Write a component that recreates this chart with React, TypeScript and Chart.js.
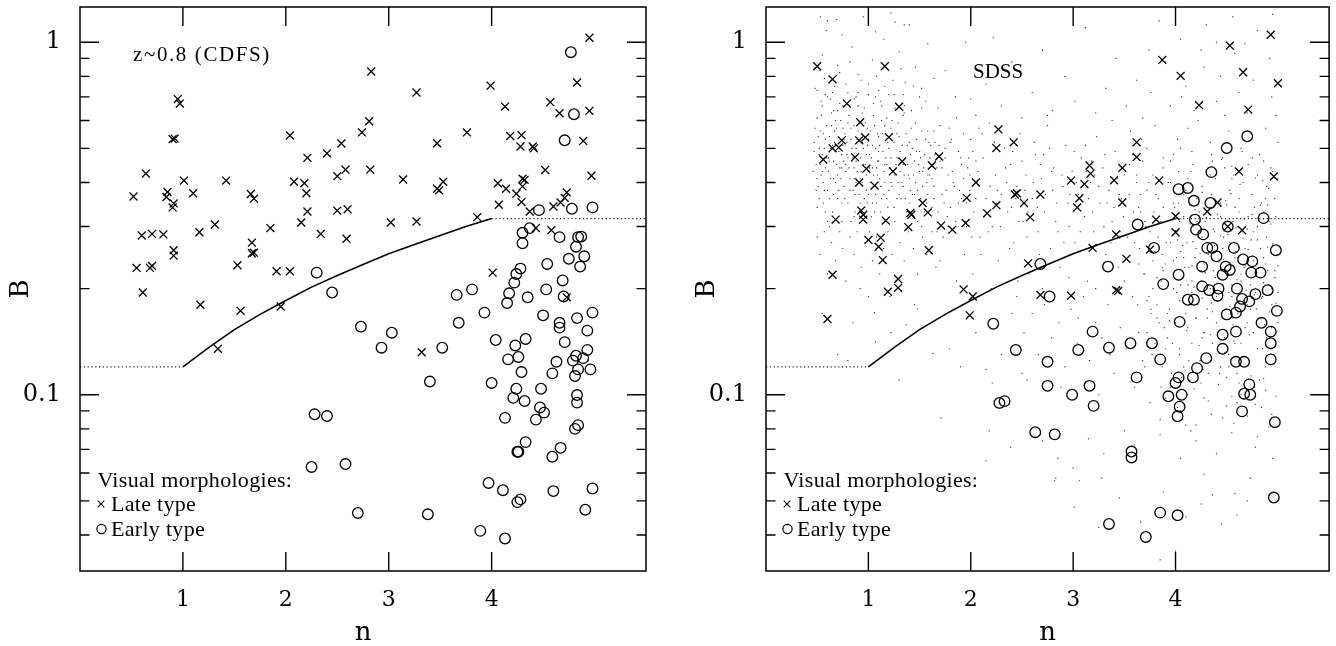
import React, { useEffect, useRef } from "react";
import { Chart, registerables } from "chart.js";

Chart.register(...registerables);

type P = [number, number];

// ---------- axes ----------
const X_MIN = 0;
const X_MAX = 5.5;
const Y_MIN = 0.031623;
const Y_MAX = 1.2589;
const X_TICKS = [1, 2, 3, 4];
const Y_TICKS = [0.1, 1];
const Y_MINOR = [0.04, 0.05, 0.06, 0.07, 0.08, 0.09, 0.2, 0.3, 0.4, 0.5, 0.6, 0.7, 0.8, 0.9];

// ---------- separating line ----------
const CURVE_N = [1, 1.25, 1.5, 1.75, 2, 2.25, 2.5, 2.75, 3, 3.25, 3.5, 3.75, 4];
const CURVE_B = [0.12, 0.136, 0.153, 0.169, 0.185, 0.202, 0.218, 0.234, 0.251, 0.267, 0.283, 0.3, 0.316];
const FLOOR_N = [0, 1];
const FLOOR_B = [0.12, 0.12];
const CEIL_N = [4, 5.5];
const CEIL_B = [0.316, 0.316];

// ---------- CDFS (left) ----------
const CDFS_LATE: P[] = [
  [4.95, 1.03], [2.83, 0.826], [3.27, 0.72], [3.99, 0.753], [4.83, 0.769], [0.95, 0.69], [0.97, 0.67],
  [4.13, 0.657], [4.57, 0.676], [4.66, 0.629], [4.95, 0.639], [2.81, 0.597], [2.74, 0.555], [3.76, 0.555],
  [2.04, 0.544], [0.9, 0.531], [0.92, 0.533], [4.18, 0.542], [4.29, 0.545], [2.54, 0.516], [3.47, 0.517],
  [4.28, 0.506], [4.4, 0.506], [4.41, 0.5], [4.89, 0.525], [2.4, 0.484], [2.21, 0.47], [4.52, 0.434],
  [2.82, 0.435], [2.58, 0.435], [2.5, 0.417], [0.64, 0.424], [4.97, 0.418], [4.3, 0.41], [4.32, 0.407],
  [1.01, 0.405], [1.42, 0.405], [2.08, 0.402], [2.18, 0.398], [3.14, 0.408], [3.53, 0.402], [3.47, 0.384],
  [3.49, 0.38], [4.06, 0.398], [4.14, 0.384], [4.24, 0.372], [4.3, 0.39], [4.73, 0.375], [4.71, 0.362],
  [0.52, 0.365], [0.85, 0.376], [0.84, 0.364], [1.1, 0.373], [1.66, 0.371], [1.69, 0.36], [2.2, 0.373],
  [0.91, 0.349], [0.9, 0.34], [4.07, 0.346], [4.29, 0.352], [4.37, 0.331], [4.6, 0.342], [4.67, 0.351],
  [2.21, 0.331], [2.5, 0.333], [2.6, 0.336], [3.86, 0.319], [1.31, 0.304], [1.85, 0.297], [2.15, 0.308],
  [3.02, 0.308], [3.27, 0.31], [1.16, 0.289], [0.6, 0.283], [0.7, 0.286], [0.81, 0.285], [2.34, 0.286],
  [2.59, 0.277], [1.67, 0.27], [1.67, 0.252], [1.69, 0.253], [4.43, 0.297], [4.58, 0.293], [0.91, 0.257],
  [0.91, 0.248], [1.53, 0.233], [0.55, 0.229], [0.68, 0.229], [0.7, 0.232], [1.91, 0.224], [2.04, 0.224],
  [4.01, 0.222], [0.61, 0.195], [1.17, 0.18], [1.56, 0.173], [1.95, 0.178], [4.73, 0.189], [1.34, 0.135],
  [3.32, 0.132],
];
const CDFS_EARLY: P[] = [
  [4.77, 0.937], [4.8, 0.625], [4.71, 0.527], [4.46, 0.334], [4.78, 0.337], [4.98, 0.34], [4.37, 0.297],
  [4.3, 0.288], [4.3, 0.269], [4.66, 0.28], [4.84, 0.28], [4.87, 0.281], [4.82, 0.263], [4.54, 0.235],
  [4.75, 0.243], [4.9, 0.247], [4.86, 0.231], [4.28, 0.228], [4.24, 0.22], [4.22, 0.208], [4.69, 0.211],
  [4.17, 0.194], [4.15, 0.182], [4.35, 0.189], [4.53, 0.199], [3.66, 0.192], [3.81, 0.199], [4.7, 0.19],
  [3.93, 0.171], [4.5, 0.168], [4.83, 0.165], [4.98, 0.171], [2.3, 0.222], [2.45, 0.195], [2.73, 0.156],
  [3.03, 0.15], [2.93, 0.136], [3.52, 0.136], [3.68, 0.16], [4.66, 0.16], [4.66, 0.155], [4.93, 0.152],
  [4.04, 0.143], [4.23, 0.138], [4.33, 0.144], [4.71, 0.141], [4.16, 0.126], [4.26, 0.128], [4.29, 0.116],
  [4.63, 0.124], [4.59, 0.115], [4.79, 0.125], [4.82, 0.129], [4.89, 0.127], [4.93, 0.134], [4.84, 0.118],
  [4.96, 0.118], [4.81, 0.113], [3.4, 0.109], [4.0, 0.108], [4.24, 0.104], [4.48, 0.104], [4.21, 0.098],
  [4.32, 0.096], [4.83, 0.0998], [4.83, 0.095], [4.47, 0.092], [4.51, 0.089], [4.13, 0.086], [4.43, 0.085],
  [4.84, 0.082], [4.81, 0.08], [2.28, 0.088], [2.4, 0.087], [4.33, 0.0734], [4.25, 0.0689], [4.26, 0.0689],
  [4.67, 0.0707], [4.59, 0.0667], [2.25, 0.0624], [2.58, 0.0636], [3.97, 0.0562], [4.11, 0.0536],
  [4.28, 0.0505], [4.25, 0.0496], [4.6, 0.0533], [4.98, 0.0542], [4.91, 0.0472], [2.7, 0.0462],
  [3.38, 0.0458], [3.89, 0.0411], [4.13, 0.0391],
];

// ---------- SDSS (right) ----------
const SDSS_LATE: P[] = [
  [0.5, 0.855], [1.16, 0.855], [0.65, 0.785], [0.79, 0.67], [1.3, 0.656], [0.92, 0.593], [0.74, 0.527],
  [0.91, 0.527], [0.97, 0.537], [1.2, 0.538], [0.65, 0.5], [0.71, 0.503], [0.56, 0.465], [0.87, 0.472],
  [0.98, 0.438], [1.33, 0.459], [1.24, 0.43], [1.69, 0.474], [1.62, 0.447], [0.91, 0.4], [1.06, 0.392],
  [2.05, 0.4], [2.27, 0.566], [2.25, 0.501], [2.42, 0.52], [1.96, 0.362], [2.43, 0.37], [2.45, 0.373],
  [2.68, 0.37], [2.52, 0.35], [2.25, 0.345], [2.16, 0.327], [2.58, 0.319], [1.53, 0.35], [1.58, 0.329],
  [1.41, 0.328], [1.42, 0.324], [0.93, 0.333], [0.95, 0.324], [0.95, 0.314], [0.68, 0.314], [1.17, 0.312],
  [1.39, 0.299], [1.71, 0.302], [1.82, 0.294], [1.95, 0.307], [1.0, 0.275], [1.12, 0.279], [1.1, 0.263],
  [1.59, 0.257], [1.14, 0.241], [0.65, 0.219], [1.29, 0.213], [1.19, 0.196], [1.29, 0.201], [1.93, 0.199],
  [2.02, 0.19], [2.56, 0.236], [2.68, 0.192], [4.93, 1.05], [4.53, 0.978], [3.87, 0.891], [4.05, 0.803],
  [4.66, 0.822], [5.0, 0.765], [4.23, 0.663], [4.71, 0.644], [3.62, 0.52], [3.62, 0.472], [3.16, 0.447],
  [3.17, 0.424], [3.48, 0.44], [3.4, 0.406], [2.98, 0.405], [3.11, 0.396], [3.84, 0.405], [4.62, 0.43],
  [4.96, 0.416], [3.06, 0.361], [3.04, 0.34], [3.48, 0.351], [4.41, 0.351], [4.31, 0.331], [3.81, 0.314],
  [4.0, 0.321], [4.0, 0.289], [4.65, 0.293], [4.51, 0.3], [3.42, 0.285], [3.19, 0.261], [3.75, 0.258],
  [3.52, 0.243], [2.98, 0.191], [3.42, 0.198], [3.44, 0.197], [0.6, 0.164], [1.99, 0.168],
];
const SDSS_EARLY: P[] = [
  [2.68, 0.235], [2.77, 0.19], [4.7, 0.541], [4.5, 0.501], [4.35, 0.428], [4.03, 0.383], [4.12, 0.386],
  [4.18, 0.355], [4.34, 0.35], [4.19, 0.314], [4.86, 0.317], [4.2, 0.294], [4.27, 0.285], [3.63, 0.304],
  [3.79, 0.261], [4.31, 0.261], [4.36, 0.261], [4.4, 0.247], [4.57, 0.261], [4.98, 0.257], [3.34, 0.231],
  [4.26, 0.231], [4.66, 0.242], [4.75, 0.239], [4.49, 0.231], [4.53, 0.226], [4.46, 0.219], [4.74, 0.222],
  [4.83, 0.222], [4.03, 0.219], [3.88, 0.206], [4.51, 0.3], [4.26, 0.203], [4.33, 0.198], [4.42, 0.2],
  [4.6, 0.2], [4.78, 0.193], [4.9, 0.198], [4.41, 0.191], [4.12, 0.186], [4.18, 0.186], [4.65, 0.187],
  [4.72, 0.184], [4.63, 0.178], [4.5, 0.169], [4.59, 0.171], [4.99, 0.173], [4.04, 0.161], [4.84, 0.16],
  [3.19, 0.151], [4.46, 0.148], [4.59, 0.151], [4.93, 0.151], [4.93, 0.14], [3.05, 0.134], [3.35, 0.136],
  [3.56, 0.14], [3.77, 0.14], [3.85, 0.126], [4.46, 0.135], [4.3, 0.127], [4.59, 0.124], [4.67, 0.124],
  [4.93, 0.126], [4.21, 0.119], [4.17, 0.112], [3.62, 0.112], [4.03, 0.112], [4.0, 0.108], [4.06, 0.1],
  [3.16, 0.106], [2.99, 0.1], [3.2, 0.093], [3.93, 0.099], [4.04, 0.0925], [4.02, 0.0869], [4.72, 0.107],
  [4.67, 0.1007], [4.73, 0.1], [4.65, 0.0897], [4.97, 0.0836], [3.57, 0.069], [3.57, 0.0664], [4.96, 0.0511],
  [3.85, 0.0463], [4.02, 0.0455], [3.35, 0.043], [3.71, 0.0395], [2.22, 0.159], [2.44, 0.134], [2.75, 0.124],
  [2.75, 0.106], [2.28, 0.0948], [2.33, 0.0959], [2.63, 0.0783], [2.82, 0.0772],
];

// SDSS comparison sample (small dots), estimated region by region
const FIELD_DISC: P[] = [
  [0.47, 0.52], [0.49, 0.45], [0.5, 0.61], [0.51, 0.39], [0.52, 0.48], [0.53, 0.56], [0.54, 0.42], [0.55, 0.66], [0.56, 0.35], [0.57, 0.5],
  [0.58, 0.44], [0.59, 0.58], [0.6, 0.38], [0.61, 0.47], [0.62, 0.54], [0.63, 0.41], [0.64, 0.63], [0.65, 0.33], [0.66, 0.46], [0.67, 0.52],
  [0.68, 0.4], [0.69, 0.57], [0.7, 0.36], [0.71, 0.49], [0.72, 0.44], [0.73, 0.6], [0.74, 0.31], [0.75, 0.51], [0.76, 0.39], [0.77, 0.55],
  [0.78, 0.43], [0.79, 0.48], [0.8, 0.35], [0.81, 0.62], [0.82, 0.41], [0.83, 0.53], [0.84, 0.46], [0.85, 0.38], [0.86, 0.58], [0.87, 0.33],
  [0.88, 0.5], [0.89, 0.43], [0.9, 0.66], [0.91, 0.37], [0.92, 0.47], [0.93, 0.55], [0.94, 0.4], [0.95, 0.45], [0.96, 0.34], [0.97, 0.59],
  [0.98, 0.42], [0.99, 0.51], [1.0, 0.37], [1.01, 0.48], [1.02, 0.56], [1.03, 0.32], [1.04, 0.44], [1.05, 0.62], [1.06, 0.39], [1.07, 0.5],
  [1.08, 0.35], [1.09, 0.46], [1.1, 0.54], [1.11, 0.41], [1.12, 0.68], [1.13, 0.36], [1.14, 0.49], [1.15, 0.43], [1.16, 0.58], [1.17, 0.31],
  [1.18, 0.45], [1.19, 0.52], [1.2, 0.38], [1.22, 0.47], [1.23, 0.6], [1.25, 0.34], [1.26, 0.42], [1.28, 0.55], [1.29, 0.4], [1.31, 0.49],
  [1.32, 0.36], [1.34, 0.45], [1.35, 0.63], [1.37, 0.33], [1.38, 0.51], [1.4, 0.41], [1.42, 0.57], [1.43, 0.37], [1.45, 0.46], [1.47, 0.53],
  [1.48, 0.31], [1.5, 0.43], [1.52, 0.65], [1.53, 0.39], [1.55, 0.48], [1.57, 0.35], [1.58, 0.56], [1.6, 0.42], [0.52, 0.36], [0.58, 0.33],
  [0.63, 0.69], [0.7, 0.64], [0.76, 0.46], [0.83, 0.31], [0.88, 0.4], [0.94, 0.52], [1.0, 0.43], [1.06, 0.33], [1.12, 0.39], [1.18, 0.61],
  [0.55, 0.43], [0.66, 0.41], [0.74, 0.48], [0.86, 0.44], [0.99, 0.57], [1.09, 0.42], [1.21, 0.44], [1.3, 0.37], [1.41, 0.48], [1.51, 0.36],
];
const FIELD_DISC_2: P[] = [
  [0.46, 0.43], [0.48, 0.57], [0.5, 0.34], [0.52, 0.5], [0.54, 0.62], [0.56, 0.4], [0.58, 0.53], [0.6, 0.31], [0.62, 0.46], [0.64, 0.58],
  [0.66, 0.37], [0.68, 0.49], [0.7, 0.42], [0.72, 0.67], [0.74, 0.35], [0.76, 0.53], [0.78, 0.45], [0.8, 0.59], [0.82, 0.38], [0.84, 0.5],
  [0.86, 0.32], [0.88, 0.46], [0.9, 0.56], [0.92, 0.41], [0.94, 0.63], [0.96, 0.36], [0.98, 0.48], [1.0, 0.53], [1.02, 0.4], [1.04, 0.35],
  [1.06, 0.58], [1.08, 0.44], [1.1, 0.49], [1.12, 0.33], [1.14, 0.55], [1.16, 0.4], [1.18, 0.36], [1.2, 0.5], [1.22, 0.57], [1.24, 0.43],
  [1.26, 0.31], [1.28, 0.47], [1.3, 0.54], [1.32, 0.4], [1.34, 0.62], [1.36, 0.36], [1.38, 0.45], [1.4, 0.52], [1.42, 0.33], [1.44, 0.42],
  [1.46, 0.59], [1.48, 0.38], [1.5, 0.49], [1.52, 0.3], [1.54, 0.44], [1.56, 0.53], [1.58, 0.37], [1.6, 0.47], [1.62, 0.34], [1.64, 0.56],
  [0.47, 0.49], [0.5, 0.41], [0.53, 0.45], [0.56, 0.55], [0.59, 0.47], [0.62, 0.36], [0.65, 0.51], [0.68, 0.6], [0.71, 0.38], [0.74, 0.44],
  [0.77, 0.36], [0.8, 0.47], [0.83, 0.57], [0.86, 0.41], [0.89, 0.53], [0.92, 0.35], [0.95, 0.5], [0.98, 0.38], [1.01, 0.44], [1.04, 0.51],
  [1.07, 0.37], [1.1, 0.46], [1.13, 0.6], [1.16, 0.45], [1.19, 0.34], [1.22, 0.4], [1.25, 0.52], [1.28, 0.36], [1.31, 0.43], [1.34, 0.39],
  [1.37, 0.55], [1.4, 0.35], [1.43, 0.5], [1.46, 0.4], [1.49, 0.45], [1.52, 0.56], [1.55, 0.33], [1.58, 0.42], [1.61, 0.51], [1.64, 0.39],
  [0.49, 0.38], [0.55, 0.48], [0.61, 0.43], [0.67, 0.56], [0.73, 0.41], [0.79, 0.52], [0.85, 0.47], [0.91, 0.59], [0.97, 0.45], [1.03, 0.47],
  [1.09, 0.55], [1.15, 0.37], [1.21, 0.54], [1.27, 0.45], [1.33, 0.51], [1.39, 0.42], [1.45, 0.37], [1.51, 0.47], [1.57, 0.4], [1.63, 0.45],
  [0.51, 0.54], [0.57, 0.38], [0.63, 0.5], [0.69, 0.45], [0.75, 0.57], [0.81, 0.44], [0.87, 0.37], [0.93, 0.43], [0.99, 0.35], [1.05, 0.42],
  [1.11, 0.51], [1.17, 0.47], [1.23, 0.39], [1.29, 0.59], [1.35, 0.42], [1.41, 0.38], [1.47, 0.49], [1.53, 0.43], [1.59, 0.52], [1.65, 0.48],
  [0.6, 0.7], [0.75, 0.66], [0.9, 0.72], [1.05, 0.67], [1.2, 0.71], [1.35, 0.66], [1.5, 0.7], [0.66, 0.64], [0.96, 0.65], [1.26, 0.65],
];
const FIELD_DISC_EDGE: P[] = [
  [1.67, 0.44], [1.7, 0.58], [1.72, 0.37], [1.75, 0.47], [1.77, 0.32], [1.8, 0.52], [1.83, 0.4], [1.86, 0.61], [1.88, 0.35], [1.91, 0.45],
  [1.93, 0.55], [1.96, 0.3], [1.99, 0.42], [2.02, 0.49], [2.05, 0.36], [2.08, 0.57], [1.69, 0.51], [1.78, 0.42], [1.89, 0.38], [1.98, 0.47],
  [0.5, 0.73], [0.57, 0.79], [0.65, 0.72], [0.72, 0.82], [0.78, 0.76], [0.86, 0.69], [0.93, 0.78], [1.0, 0.71], [1.08, 0.8], [1.16, 0.75],
  [1.24, 0.78], [1.32, 0.84], [1.44, 0.75], [1.56, 0.68], [0.54, 0.68], [0.82, 0.88], [1.13, 0.66], [1.42, 0.64],
];
const FIELD_DISC_TOP: P[] = [
  [0.48, 0.74], [0.55, 0.92], [0.6, 1.15], [0.63, 0.78], [0.7, 0.86], [0.74, 1.05], [0.8, 0.72], [0.84, 0.97], [0.9, 0.81], [0.95, 1.18],
  [1.0, 0.76], [1.04, 0.89], [1.1, 0.73], [1.15, 1.02], [1.2, 0.83], [1.25, 0.71], [1.3, 0.94], [1.36, 0.77], [1.4, 1.12], [1.46, 0.85],
  [1.52, 0.74], [1.58, 0.99], [1.64, 0.79], [0.58, 0.71], [0.67, 0.75], [0.88, 0.7], [1.07, 0.7], [1.22, 1.21], [0.52, 0.83], [1.34, 0.71],
  [0.53, 1.18], [0.69, 1.16], [0.59, 1.08], [1.07, 1.07], [1.26, 1.14], [1.35, 1.12],
];
const FIELD_DISC_LOW: P[] = [
  [0.5, 0.28], [0.53, 0.25], [0.57, 0.29], [0.6, 0.22], [0.64, 0.27], [0.68, 0.24], [0.72, 0.29], [0.75, 0.26], [0.78, 0.21], [0.82, 0.28],
  [0.86, 0.25], [0.89, 0.29], [0.93, 0.23], [0.97, 0.27], [1.01, 0.29], [1.04, 0.24], [1.08, 0.28], [1.11, 0.22], [1.15, 0.26], [1.19, 0.29],
  [1.23, 0.25], [1.27, 0.21], [1.31, 0.27], [1.35, 0.24], [1.39, 0.29], [1.44, 0.26], [1.48, 0.22], [1.53, 0.28], [1.57, 0.25], [1.62, 0.29],
  [1.66, 0.23], [0.62, 0.3], [0.92, 0.2], [1.21, 0.19], [1.45, 0.18],
];
const FIELD_UNDER_LINE: P[] = [
  [0.55, 0.17], [0.7, 0.13], [0.85, 0.16], [1.0, 0.19], [1.06, 0.171], [1.07, 0.141], [1.22, 0.15], [1.37, 0.158], [1.48, 0.175],
  [1.63, 0.131], [1.71, 0.086], [1.79, 0.135], [1.9, 0.12], [2.05, 0.15], [2.15, 0.118], [2.21, 0.108], [2.3, 0.13], [2.4, 0.17],
  [2.5, 0.115], [0.8, 0.125], [1.3, 0.11], [2.18, 0.079], [2.15, 0.065], [2.39, 0.071], [2.83, 0.058],
];
const FIELD_MID: P[] = [
  [1.62, 0.41], [1.65, 0.52], [1.68, 0.33], [1.7, 0.46], [1.73, 0.28], [1.76, 0.38], [1.79, 0.57], [1.82, 0.43], [1.85, 0.31], [1.88, 0.49],
  [1.91, 0.36], [1.94, 0.25], [1.97, 0.44], [2.0, 0.53], [2.03, 0.33], [2.06, 0.4], [2.09, 0.28], [2.12, 0.47], [2.15, 0.36], [2.18, 0.59],
  [2.21, 0.3], [2.24, 0.42], [2.27, 0.24], [2.3, 0.37], [2.33, 0.5], [2.36, 0.33], [2.39, 0.45], [2.42, 0.27], [2.45, 0.39], [2.48, 0.55],
  [2.51, 0.31], [2.54, 0.42], [2.57, 0.22], [2.6, 0.36], [2.63, 0.48], [2.66, 0.29], [2.69, 0.41], [2.72, 0.33], [2.75, 0.58], [2.78, 0.26],
  [2.81, 0.44], [2.84, 0.35], [2.87, 0.23], [2.9, 0.39], [2.93, 0.51], [2.96, 0.3], [2.99, 0.43], [3.02, 0.27], [3.05, 0.37], [3.08, 0.47],
  [3.11, 0.32], [3.14, 0.21], [3.17, 0.4], [3.2, 0.29], [3.23, 0.54], [3.26, 0.35], [3.29, 0.44], [3.32, 0.25], [3.35, 0.38], [3.38, 0.31],
  [3.41, 0.49], [3.44, 0.23], [3.47, 0.36], [3.5, 0.42], [3.53, 0.28], [3.56, 0.56], [3.59, 0.33], [3.62, 0.4], [3.65, 0.26], [3.68, 0.46],
  [1.7, 0.24], [1.86, 0.21], [2.02, 0.22], [2.2, 0.2], [2.46, 0.21], [2.7, 0.2], [2.96, 0.215], [3.22, 0.2], [3.5, 0.21],
  [1.75, 0.5], [2.05, 0.46], [2.35, 0.4], [2.62, 0.52], [2.85, 0.29], [3.12, 0.51], [3.4, 0.34], [3.66, 0.37], [1.95, 0.31], [2.25, 0.35],
  [2.55, 0.28], [2.8, 0.38], [3.0, 0.33], [3.3, 0.3], [3.55, 0.45], [1.8, 0.34], [2.1, 0.25], [2.4, 0.34], [2.68, 0.45], [3.15, 0.36],
];
const FIELD_MID_2: P[] = [
  [1.64, 0.36], [1.72, 0.44], [1.78, 0.3], [1.84, 0.39], [1.9, 0.47], [1.96, 0.35], [2.01, 0.28], [2.07, 0.43], [2.13, 0.32], [2.19, 0.39],
  [2.23, 0.52], [2.29, 0.3], [2.34, 0.44], [2.38, 0.26], [2.44, 0.36], [2.5, 0.46], [2.56, 0.33], [2.61, 0.4], [2.67, 0.25], [2.73, 0.37],
  [2.77, 0.5], [2.83, 0.31], [2.89, 0.42], [2.95, 0.35], [3.01, 0.49], [3.07, 0.29], [3.13, 0.43], [3.19, 0.33], [3.25, 0.39], [3.31, 0.48],
  [3.37, 0.27], [3.43, 0.41], [3.49, 0.32], [3.55, 0.37], [3.61, 0.29], [3.67, 0.53], [1.67, 0.29], [1.81, 0.53], [1.93, 0.41], [2.11, 0.55],
  [2.26, 0.38], [2.41, 0.49], [2.53, 0.38], [2.65, 0.34], [2.79, 0.43], [2.91, 0.27], [3.03, 0.4], [3.18, 0.46], [3.33, 0.35], [3.46, 0.29],
  [3.58, 0.48], [1.74, 0.35], [1.99, 0.38], [2.17, 0.29], [2.47, 0.31], [2.71, 0.48], [2.97, 0.37], [3.21, 0.42], [3.45, 0.37], [3.64, 0.34],
];
const FIELD_MID_LOW: P[] = [
  [2.45, 0.19], [2.52, 0.15], [2.6, 0.17], [2.66, 0.13], [2.72, 0.18], [2.79, 0.145], [2.86, 0.16], [2.92, 0.12], [2.98, 0.175], [3.04, 0.14],
  [3.1, 0.19], [3.16, 0.125], [3.22, 0.16], [3.28, 0.145], [3.34, 0.18], [3.4, 0.115], [3.46, 0.155], [3.52, 0.135], [3.58, 0.19], [3.64, 0.15],
  [3.7, 0.12], [3.76, 0.17], [3.8, 0.14], [2.55, 0.11], [2.88, 0.105], [3.25, 0.1], [3.6, 0.105], [3.05, 0.165], [3.36, 0.13], [3.72, 0.185],
];
const FIELD_MID_TOP: P[] = [
  [1.68, 0.65], [1.75, 0.83], [1.85, 0.7], [1.95, 1.0], [2.05, 0.62], [2.15, 0.76], [2.22, 1.03], [2.3, 0.66], [2.4, 0.88], [2.5, 0.61],
  [2.6, 0.72], [2.7, 0.95], [2.8, 0.64], [2.92, 0.8], [3.02, 0.68], [3.12, 1.1], [3.22, 0.63], [3.32, 0.74], [3.42, 0.9], [3.52, 0.66],
  [3.62, 0.78], [3.68, 0.61], [2.0, 0.69], [2.75, 0.62], [3.38, 0.6],
];
const FIELD_BULGE: P[] = [
  [3.72, 0.38], [3.78, 0.42], [3.83, 0.36], [3.88, 0.44], [3.93, 0.4], [3.98, 0.35], [4.03, 0.43], [4.08, 0.37], [4.12, 0.41], [4.17, 0.45],
  [4.21, 0.36], [4.26, 0.39], [4.3, 0.43], [4.35, 0.37], [4.39, 0.41], [4.44, 0.35], [4.48, 0.44], [4.53, 0.38], [4.57, 0.42], [4.62, 0.36],
  [4.66, 0.4], [4.71, 0.45], [4.75, 0.37], [4.8, 0.42], [4.84, 0.35], [4.89, 0.39], [4.93, 0.44], [4.97, 0.36], [5.0, 0.41], [4.55, 0.445],
  [3.71, 0.3], [3.75, 0.26], [3.79, 0.33], [3.83, 0.28], [3.87, 0.25], [3.91, 0.31], [3.95, 0.27], [3.99, 0.34], [4.02, 0.29], [4.05, 0.255],
  [4.08, 0.32], [4.11, 0.27], [4.14, 0.345], [4.17, 0.3], [4.2, 0.26], [4.23, 0.33], [4.26, 0.28], [4.29, 0.31], [4.32, 0.25], [4.35, 0.34],
  [4.38, 0.29], [4.41, 0.265], [4.44, 0.32], [4.47, 0.28], [4.5, 0.345], [4.53, 0.27], [4.56, 0.31], [4.59, 0.255], [4.62, 0.33], [4.65, 0.29],
  [4.68, 0.26], [4.71, 0.32], [4.74, 0.275], [4.77, 0.34], [4.8, 0.3], [4.83, 0.26], [4.86, 0.33], [4.89, 0.28], [4.92, 0.31], [4.95, 0.265],
  [4.98, 0.32], [4.04, 0.31], [4.37, 0.255], [4.61, 0.3], [4.9, 0.345],
  [3.7, 0.22], [3.74, 0.19], [3.78, 0.24], [3.82, 0.18], [3.86, 0.21], [3.9, 0.235], [3.94, 0.175], [3.98, 0.2], [4.01, 0.245], [4.04, 0.185],
  [4.07, 0.215], [4.1, 0.17], [4.13, 0.23], [4.16, 0.195], [4.19, 0.245], [4.22, 0.18], [4.25, 0.21], [4.28, 0.235], [4.31, 0.175], [4.34, 0.2],
  [4.37, 0.225], [4.4, 0.185], [4.43, 0.24], [4.46, 0.205], [4.49, 0.175], [4.52, 0.22], [4.55, 0.19], [4.58, 0.245], [4.61, 0.17], [4.64, 0.21],
  [4.67, 0.23], [4.7, 0.18], [4.73, 0.205], [4.76, 0.24], [4.79, 0.175], [4.82, 0.215], [4.85, 0.19], [4.88, 0.235], [4.91, 0.205], [4.94, 0.18],
  [4.97, 0.225], [5.0, 0.195], [4.12, 0.205], [4.45, 0.225], [4.78, 0.195],
  [3.72, 0.15], [3.77, 0.13], [3.82, 0.165], [3.87, 0.12], [3.92, 0.145], [3.96, 0.115], [4.0, 0.16], [4.04, 0.135], [4.08, 0.12], [4.12, 0.155],
  [4.16, 0.14], [4.2, 0.165], [4.24, 0.125], [4.28, 0.15], [4.32, 0.115], [4.36, 0.14], [4.4, 0.16], [4.44, 0.12], [4.48, 0.145], [4.52, 0.13],
  [4.56, 0.165], [4.6, 0.115], [4.64, 0.14], [4.68, 0.155], [4.72, 0.125], [4.76, 0.15], [4.8, 0.135], [4.84, 0.165], [4.88, 0.12], [4.92, 0.145],
  [4.96, 0.13], [5.0, 0.16], [4.14, 0.11], [4.5, 0.112], [4.86, 0.111], [3.9, 0.135], [4.26, 0.145], [4.58, 0.14], [4.74, 0.113], [4.94, 0.155],
  [3.75, 0.095], [3.85, 0.085], [3.95, 0.105], [4.05, 0.09], [4.12, 0.1], [4.2, 0.082], [4.28, 0.098], [4.35, 0.088], [4.42, 0.107], [4.5, 0.093],
  [4.57, 0.083], [4.64, 0.1], [4.7, 0.087], [4.77, 0.105], [4.84, 0.092], [4.91, 0.081], [4.98, 0.099], [4.25, 0.108], [4.6, 0.095], [4.88, 0.103],
];
const FIELD_BULGE_2: P[] = [
  [3.86, 0.31], [3.92, 0.17], [3.98, 0.24], [4.04, 0.13], [4.1, 0.38], [4.16, 0.21], [4.22, 0.28], [4.28, 0.15], [4.34, 0.42], [4.4, 0.19],
  [4.46, 0.26], [4.52, 0.12], [4.58, 0.34], [4.64, 0.22], [4.7, 0.16], [4.76, 0.29], [4.82, 0.11], [4.88, 0.36], [4.94, 0.2], [4.99, 0.25],
  [3.89, 0.155], [3.95, 0.4], [4.01, 0.195], [4.07, 0.265], [4.13, 0.125], [4.19, 0.335], [4.25, 0.225], [4.31, 0.165], [4.37, 0.295], [4.43, 0.115],
  [4.49, 0.355], [4.55, 0.205], [4.61, 0.245], [4.67, 0.315], [4.73, 0.175], [4.79, 0.235], [4.85, 0.135], [4.91, 0.385], [4.97, 0.215], [4.02, 0.275],
  [3.88, 0.225], [3.94, 0.162], [4.0, 0.292], [4.06, 0.112], [4.12, 0.362], [4.18, 0.202], [4.24, 0.252], [4.3, 0.318], [4.36, 0.172], [4.42, 0.238],
  [4.48, 0.132], [4.54, 0.372], [4.6, 0.212], [4.66, 0.278], [4.72, 0.148], [4.78, 0.412], [4.84, 0.188], [4.9, 0.262], [4.96, 0.122], [4.44, 0.342],
  [3.91, 0.27], [3.97, 0.14], [4.03, 0.35], [4.09, 0.23], [4.15, 0.18], [4.21, 0.31], [4.27, 0.118], [4.33, 0.255], [4.39, 0.215], [4.45, 0.168],
  [4.51, 0.285], [4.57, 0.142], [4.63, 0.395], [4.69, 0.198], [4.75, 0.325], [4.81, 0.228], [4.87, 0.158], [4.93, 0.305], [4.98, 0.182], [4.26, 0.375],
  [4.05, 0.205], [4.11, 0.152], [4.17, 0.272], [4.23, 0.138], [4.29, 0.222], [4.35, 0.182], [4.41, 0.325], [4.47, 0.242], [4.53, 0.178], [4.59, 0.298],
  [4.65, 0.128], [4.71, 0.258], [4.77, 0.192], [4.83, 0.345], [4.89, 0.145], [4.95, 0.268], [5.0, 0.232], [4.14, 0.305], [4.62, 0.185], [4.86, 0.208],
  [4.08, 0.245], [4.2, 0.165], [4.32, 0.205], [4.38, 0.265], [4.5, 0.218], [4.56, 0.158], [4.68, 0.232], [4.74, 0.198], [4.8, 0.275], [4.92, 0.172],
  [4.26, 0.188], [4.44, 0.282], [4.62, 0.262], [4.86, 0.245], [4.98, 0.142], [4.16, 0.232], [4.34, 0.148], [4.52, 0.195], [4.7, 0.295], [4.9, 0.225],
  [3.9, 0.098], [4.02, 0.092], [4.18, 0.104], [4.32, 0.096], [4.46, 0.086], [4.62, 0.108], [4.78, 0.094], [4.94, 0.088], [4.1, 0.082], [4.55, 0.099],
  [3.95, 0.46], [4.15, 0.43], [4.35, 0.48], [4.55, 0.41], [4.75, 0.47], [4.95, 0.43], [4.05, 0.5], [4.45, 0.465], [4.65, 0.49], [4.85, 0.405],
  [3.6, 0.27], [3.63, 0.18], [3.66, 0.33], [3.69, 0.22], [3.72, 0.14], [3.75, 0.29], [3.78, 0.2], [3.81, 0.37], [3.84, 0.16], [3.87, 0.23],
  [3.62, 0.42], [3.68, 0.125], [3.74, 0.4], [3.8, 0.255], [3.86, 0.105], [3.64, 0.235], [3.7, 0.31], [3.76, 0.175], [3.82, 0.215], [3.88, 0.34],
];
const FIELD_BULGE_TOP: P[] = [
  [3.72, 0.5], [3.8, 0.58], [3.88, 0.47], [3.95, 0.66], [4.02, 0.53], [4.1, 0.75], [4.16, 0.49], [4.22, 0.6], [4.28, 0.85], [4.34, 0.52],
  [4.4, 0.68], [4.46, 0.47], [4.52, 0.56], [4.58, 0.93], [4.64, 0.5], [4.7, 0.63], [4.76, 0.78], [4.82, 0.48], [4.88, 0.57], [4.94, 0.7],
  [5.0, 0.52], [3.76, 0.72], [3.9, 0.88], [4.05, 1.02], [4.18, 0.64], [4.3, 1.12], [4.44, 0.8], [4.56, 1.18], [4.68, 0.99], [4.8, 1.08],
  [4.92, 0.9], [4.98, 0.62], [3.84, 1.15], [4.12, 0.57], [4.36, 0.46], [4.62, 0.72], [4.86, 0.46], [3.98, 0.48], [4.48, 0.62], [4.74, 0.55],
  [4.25, 0.95], [4.95, 1.2], [4.06, 0.7], [4.4, 1.0], [3.74, 0.95],
];
const FIELD_FAINT: P[] = [
  [2.85, 0.066], [3.0, 0.062], [2.82, 0.057], [3.06, 0.057], [3.28, 0.058], [3.45, 0.051], [3.01, 0.048], [3.66, 0.0435], [3.88, 0.053],
  [4.28, 0.0595], [4.36, 0.052], [4.25, 0.049], [4.6, 0.0455], [4.58, 0.0525], [4.73, 0.058], [3.85, 0.034], [3.15, 0.075], [3.6, 0.072],
  [3.85, 0.077], [4.05, 0.066], [4.1, 0.045], [4.2, 0.074], [4.4, 0.068], [4.45, 0.043], [4.55, 0.078], [4.7, 0.05], [4.78, 0.071],
  [4.95, 0.066], [3.25, 0.042], [4.0, 0.036], [2.7, 0.074], [3.5, 0.079], [4.15, 0.079], [4.8, 0.076], [3.3, 0.068],
];

const SDSS_FIELD: P[] = [
  ...FIELD_DISC, ...FIELD_DISC_2, ...FIELD_DISC_EDGE, ...FIELD_DISC_TOP, ...FIELD_DISC_LOW, ...FIELD_UNDER_LINE,
  ...FIELD_MID, ...FIELD_MID_2, ...FIELD_MID_LOW, ...FIELD_MID_TOP, ...FIELD_BULGE, ...FIELD_BULGE_2,
  ...FIELD_BULGE_TOP, ...FIELD_FAINT,
];

// ---------- helpers ----------
const toXY = (pts: P[]) => pts.map(([x, y]) => ({ x, y }));
const zipXY = (xs: number[], ys: number[]) => xs.map((x, i) => ({ x, y: ys[i] }));

const TICK_FONT = '"DejaVu Serif", serif';
const TEXT_FONT = '"Liberation Serif", serif';

const axisFrame = {
  id: "axisFrame",
  afterDatasetsDraw(chart: any) {
    const { ctx, chartArea: a, scales } = chart;
    const xs = scales.x;
    const ys = scales.y;
    ctx.save();
    ctx.strokeStyle = "#000";
    ctx.lineWidth = 1.4;
    ctx.beginPath();
    const hTick = (v: number, len: number) => {
      const p = ys.getPixelForValue(v);
      ctx.moveTo(a.left, p);
      ctx.lineTo(a.left + len, p);
      ctx.moveTo(a.right, p);
      ctx.lineTo(a.right - len, p);
    };
    Y_TICKS.forEach((v) => hTick(v, 19));
    Y_MINOR.forEach((v) => hTick(v, 9.5));
    X_TICKS.forEach((v) => {
      const p = xs.getPixelForValue(v);
      ctx.moveTo(p, a.bottom);
      ctx.lineTo(p, a.bottom - 19);
      ctx.moveTo(p, a.top);
      ctx.lineTo(p, a.top + 19);
    });
    ctx.stroke();
    ctx.lineWidth = 1.5;
    ctx.strokeRect(a.left, a.top, a.right - a.left, a.bottom - a.top);
    ctx.restore();
  },
};

const panelText = {
  id: "panelText",
  afterDraw(chart: any, _args: any, opts: any) {
    const { ctx, chartArea: a } = chart;
    ctx.save();
    ctx.fillStyle = "#000";
    ctx.strokeStyle = "#000";
    ctx.textBaseline = "middle";
    ctx.textAlign = "left";
    ctx.font = `${opts.size}px ${TEXT_FONT}`;
    ctx.letterSpacing = `${opts.spacing}px`;
    ctx.fillText(opts.label, a.left + opts.dx, a.top + opts.dy);
    ctx.letterSpacing = "0.3px";
    ctx.font = `22px ${TEXT_FONT}`;
    ctx.fillText("Visual morphologies:", a.left + 17.5, a.bottom - 90);
    ctx.fillText("Late type", a.left + 31, a.bottom - 66);
    ctx.fillText("Early type", a.left + 31, a.bottom - 41);
    ctx.lineWidth = 1.1;
    const sx = a.left + 21;
    const sy = a.bottom - 67;
    const s = 3.3;
    ctx.beginPath();
    ctx.moveTo(sx - s, sy - s);
    ctx.lineTo(sx + s, sy + s);
    ctx.moveTo(sx + s, sy - s);
    ctx.lineTo(sx - s, sy + s);
    ctx.stroke();
    ctx.lineWidth = 1.2;
    ctx.beginPath();
    ctx.arc(a.left + 21.5, a.bottom - 42, 4.6, 0, Math.PI * 2);
    ctx.stroke();
    ctx.restore();
  },
};

function makeConfig(opts: {
  late: P[];
  early: P[];
  field: P[];
  label: string;
  dx: number;
  dy: number;
  size: number;
  spacing: number;
  padRight: number;
}): any {
  const datasets: any[] = [
    {
      label: "Late type",
      data: toXY(opts.late),
      pointStyle: "crossRot",
      pointRadius: 5.6,
      borderColor: "#000",
      backgroundColor: "#000",
      pointBorderWidth: 1.3,
    },
    {
      label: "Early type",
      data: toXY(opts.early),
      pointStyle: "circle",
      pointRadius: 5.3,
      borderColor: "#000",
      backgroundColor: "rgba(0,0,0,0)",
      pointBorderWidth: 1.3,
    },
    {
      label: "limit",
      data: zipXY(CURVE_N, CURVE_B),
      showLine: true,
      pointRadius: 0,
      borderColor: "#000",
      borderWidth: 1.6,
      tension: 0,
    },
    {
      label: "floor",
      data: zipXY(FLOOR_N, FLOOR_B),
      showLine: true,
      pointRadius: 0,
      borderColor: "#222",
      borderWidth: 1.2,
      borderDash: [1.2, 2.6],
    },
    {
      label: "ceil",
      data: zipXY(CEIL_N, CEIL_B),
      showLine: true,
      pointRadius: 0,
      borderColor: "#222",
      borderWidth: 1.2,
      borderDash: [1.2, 2.6],
    },
  ];
  if (opts.field.length) {
    datasets.push({
      label: "SDSS",
      data: toXY(opts.field),
      pointStyle: "rect",
      pointRadius: 0.8,
      backgroundColor: "#333",
      borderColor: "#333",
      pointBorderWidth: 0,
    });
  }
  return {
    type: "scatter",
    data: { datasets },
    plugins: [axisFrame, panelText],
    options: {
      responsive: false,
      animation: false,
      events: [],
      layout: { padding: { left: 0, right: opts.padRight, top: 7, bottom: 0 } },
      plugins: {
        legend: { display: false },
        tooltip: { enabled: false },
        panelText: { label: opts.label, dx: opts.dx, dy: opts.dy, size: opts.size, spacing: opts.spacing },
      },
      scales: {
        x: {
          type: "linear",
          min: X_MIN,
          max: X_MAX,
          bounds: "data",
          afterBuildTicks: (s: any) => {
            s.ticks = X_TICKS.map((v) => ({ value: v }));
          },
          afterFit: (s: any) => {
            s.height = 75;
            s.paddingLeft = 0;
            s.paddingRight = 0;
          },
          grid: { display: false, drawTicks: false },
          border: { display: false },
          ticks: {
            padding: 16,
            maxRotation: 0,
            autoSkip: false,
            color: "#000",
            font: { family: TICK_FONT, size: 22 },
            callback: (v: any) => String(v),
          },
          title: {
            display: true,
            text: "n",
            color: "#000",
            font: { family: TICK_FONT, size: 26 },
            padding: { top: 0, bottom: -3 },
          },
        },
        y: {
          type: "logarithmic",
          min: Y_MIN,
          max: Y_MAX,
          bounds: "data",
          afterBuildTicks: (s: any) => {
            s.ticks = Y_TICKS.map((v) => ({ value: v }));
          },
          afterFit: (s: any) => {
            s.width = 80;
            s.paddingTop = 0;
            s.paddingBottom = 0;
          },
          grid: { display: false, drawTicks: false },
          border: { display: false },
          ticks: {
            padding: 19,
            autoSkip: false,
            color: "#000",
            font: { family: TICK_FONT, size: 24 },
            callback: (v: any) => String(v),
          },
          title: {
            display: true,
            text: "B",
            color: "#000",
            font: { family: TICK_FONT, size: 26 },
            padding: { top: 6, bottom: 0 },
          },
        },
      },
    },
  };
}

export default function App() {
  const leftRef = useRef<HTMLCanvasElement>(null);
  const rightRef = useRef<HTMLCanvasElement>(null);

  useEffect(() => {
    const c1 = new Chart(
      leftRef.current as HTMLCanvasElement,
      makeConfig({
        late: CDFS_LATE,
        early: CDFS_EARLY,
        field: [],
        label: "z~0.8 (CDFS)",
        dx: 53,
        dy: 48,
        size: 21,
        spacing: 1.6,
        padRight: 22,
      })
    );
    const c2 = new Chart(
      rightRef.current as HTMLCanvasElement,
      makeConfig({
        late: SDSS_LATE,
        early: SDSS_EARLY,
        field: SDSS_FIELD,
        label: "SDSS",
        dx: 207,
        dy: 65,
        size: 21,
        spacing: 0,
        padRight: 5,
      })
    );
    return () => {
      c1.destroy();
      c2.destroy();
    };
  }, []);

  return (
    <div style={{ position: "absolute", left: 0, top: 0, width: 1336, height: 646, background: "#fff" }}>
      <canvas
        ref={leftRef}
        width={668}
        height={646}
        style={{ position: "absolute", left: 0, top: 0, width: 668, height: 646 }}
      />
      <canvas
        ref={rightRef}
        width={650}
        height={646}
        style={{ position: "absolute", left: 686, top: 0, width: 650, height: 646 }}
      />
    </div>
  );
}
